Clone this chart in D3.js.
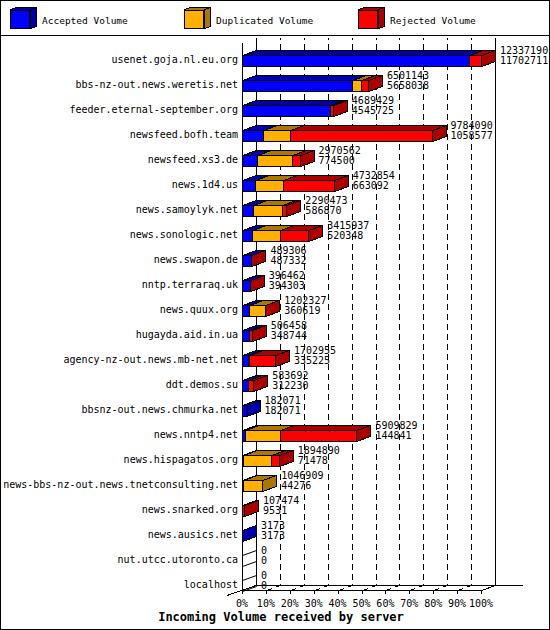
<!DOCTYPE html>
<html lang="en">
<head>
<meta charset="UTF-8">
<title>Incoming Volume received by server</title>
<script src="https://d3js.org/d3.v7.min.js"></script>
<style>
  body { margin: 0; background: #fff; }
  svg { display: block; shape-rendering: crispEdges; }
  text { font-family: "DejaVu Sans Mono", monospace; fill: #000; }
</style>
</head>
<body>
<div id="chart"></div>
<script>

const servers = ["usenet.goja.nl.eu.org", "bbs-nz-out.news.weretis.net", "feeder.eternal-september.org",
  "newsfeed.bofh.team", "newsfeed.xs3.de", "news.1d4.us", "news.samoylyk.net", "news.sonologic.net",
  "news.swapon.de", "nntp.terraraq.uk", "news.quux.org", "hugayda.aid.in.ua",
  "agency-nz-out.news.mb-net.net", "ddt.demos.su", "bbsnz-out.news.chmurka.net", "news.nntp4.net",
  "news.hispagatos.org", "news-bbs-nz-out.news.tnetconsulting.net", "news.snarked.org",
  "news.ausics.net", "nut.utcc.utoronto.ca", "localhost"];

const totalVol = [12337190, 6501143, 4689429, 9784090, 2970562, 4732854, 2290473, 3415937,
  489306, 396462, 1202327, 506458, 1702955, 583692, 182071, 5909829, 1894890, 1046909,
  107474, 3173, 0, 0];
const acceptedVol = [11702711, 5658038, 4545725, 1058577, 774500, 663092, 586870, 520348,
  487332, 394303, 360619, 348744, 335225, 312230, 182071, 144841, 71478, 44276,
  9531, 3173, 0, 0];
// duplicated / rejected split read off the bar segments (estimates)
const duplicatedVol = [0, 470000, 0, 1394000, 1820000, 1445000, 1500000, 1450000,
  0, 0, 835000, 10000, 50000, 0, 0, 1810000, 1450000, 1002633,
  0, 0, 0, 0];
const rejectedVol = [634479, 373105, 143704, 7331513, 376062, 2624762, 203603, 1445589,
  1974, 2159, 6708, 147714, 1317730, 271462, 0, 3954988, 373412, 0,
  97943, 0, 0, 0];

const pctTicks = [0, 10, 20, 30, 40, 50, 60, 70, 80, 90, 100];
const legendLabels = ["Accepted Volume", "Duplicated Volume", "Rejected Volume"];

const W = 550, H = 630;
const front = ["#0000ff", "#ffb000", "#ff0000"];
const shade = ["#0000aa", "#aa7700", "#aa0000"];
const dx = 14, dy = -5;          // 3d depth
const x0 = 242, x1 = 481;         // front 0% .. 100%
const floorY = 590, topY = 38;

const svg = d3.select("#chart").append("svg")
  .attr("width", W).attr("height", H);

svg.append("rect").attr("x", 0.5).attr("y", 0.5).attr("width", W - 1).attr("height", H - 1)
  .attr("fill", "#fff").attr("stroke", "#000");
svg.append("line").attr("x1", 0).attr("x2", W).attr("y1", 35.5).attr("y2", 35.5).attr("stroke", "#000");

// legend
const legendX = [10, 184, 358];
const lg = svg.selectAll("g.legend").data(legendLabels).enter().append("g")
  .attr("class", "legend")
  .attr("transform", (d, i) => `translate(${legendX[i]},10)`);
lg.append("path")
  .attr("d", "M20,0 L26,-2.5 L26,16.5 L20,19 Z")
  .attr("fill", (d, i) => shade[i]).attr("stroke", "#000");
lg.append("path")
  .attr("d", "M0,0 L6,-2.5 L26,-2.5 L20,0 Z")
  .attr("fill", (d, i) => shade[i]).attr("stroke", "#000");
lg.append("rect").attr("x", 0.5).attr("y", 0.5).attr("width", 19).attr("height", 18)
  .attr("fill", (d, i) => front[i]).attr("stroke", "#000");
lg.append("text").attr("x", 32).attr("y", 10).attr("dominant-baseline", "central")
  .style("font-size", "9.5px").text(d => d);

// scales
const x = d3.scaleLinear().domain([0, d3.max(totalVol)]).range([x0, x1]);
const pct = d3.scaleLinear().domain([0, 100]).range([x0, x1]);
const y = d3.scaleBand().domain(servers).range([47.5, 47.5 + 25 * servers.length]);
const barH = 11;

// walls and grid
const g = svg.append("g").attr("stroke", "#000").attr("fill", "none");
g.append("line").attr("x1", x0 + dx + 0.5).attr("x2", x0 + dx + 0.5)
  .attr("y1", topY).attr("y2", floorY + dy);
g.append("line").attr("x1", x1 + dx + 0.5).attr("x2", x1 + dx + 0.5)
  .attr("y1", topY).attr("y2", floorY + dy);
g.selectAll("path.grid").data(pctTicks.slice(1, -1)).enter().append("path")
  .attr("class", "grid")
  .attr("stroke-dasharray", "6,4")
  .attr("d", p => {
    const px = Math.round(pct(p)) + 0.5;
    return `M${px},${floorY + 0.5} L${px + dx},${floorY + dy + 0.5} L${px + dx},${topY}`;
  });

// bars
const rows = servers.map((s, i) => {
  const vals = [acceptedVol[i], duplicatedVol[i], rejectedVol[i]];
  let acc = 0;
  const segs = [];
  vals.forEach((v, k) => {
    if (v > 0) segs.push({ k, a: x(acc), b: x(acc + v) });
    acc += v;
  });
  return { name: s, i, segs };
});

function box(a, b, t, bt) {
  return {
    topFace: `M${a},${t} L${a + dx},${t + dy} L${b + dx},${t + dy} L${b},${t} Z`,
    side: `M${b},${t} L${b + dx},${t + dy} L${b + dx},${bt + dy} L${b},${bt} Z`
  };
}

const barG = svg.append("g");
rows.forEach(r => {
  const t = Math.round(y(r.name) + 7) + 0.5, bt = t + barH;
  if (r.segs.length === 0) {
    const f = box(x0 + 0.5, x0 + 0.5, t, bt);
    barG.append("path").attr("d", f.side).attr("fill", "none").attr("stroke", "#000")
      .style("shape-rendering", "auto");
    return;
  }
  r.segs.forEach(s => {
    const a = Math.round(s.a) + 0.5, b = Math.round(s.b) + 0.5;
    const f = box(a, b, t, bt);
    barG.append("path").attr("d", f.side).attr("fill", shade[s.k]).attr("stroke", "#000");
    barG.append("path").attr("d", f.topFace).attr("fill", shade[s.k]).attr("stroke", "#000");
    barG.append("rect").attr("x", a).attr("y", t).attr("width", Math.max(0, b - a)).attr("height", barH)
      .attr("fill", front[s.k]).attr("stroke", "#000");
  });
});

// front axis, floor, ticks
const ax = svg.append("g").attr("stroke", "#000").attr("fill", "none");
ax.append("line").attr("x1", x0 + 0.5).attr("x2", x0 + 0.5).attr("y1", topY - dy).attr("y2", floorY + 4);
ax.append("line").attr("x1", x0).attr("x2", x1 + 1).attr("y1", floorY + 0.5).attr("y2", floorY + 0.5);
ax.append("line").attr("x1", x0 + dx).attr("x2", 523).attr("y1", floorY + dy + 0.5).attr("y2", floorY + dy + 0.5);
ax.append("line").attr("x1", x0 - dx - 1).attr("y1", floorY - dy + 0.5)
  .attr("x2", x0 + dx).attr("y2", floorY + dy + 0.5);
ax.append("line").attr("x1", x1 + 0.5).attr("y1", floorY + 0.5)
  .attr("x2", x1 + dx + 0.5).attr("y2", floorY + dy + 0.5);
ax.selectAll("line.tick").data(pctTicks).enter().append("line")
  .attr("class", "tick")
  .attr("x1", p => Math.round(pct(p)) + 0.5).attr("x2", p => Math.round(pct(p)) + 0.5)
  .attr("y1", floorY).attr("y2", floorY + 4);

svg.selectAll("text.pct").data(pctTicks).enter().append("text")
  .attr("class", "pct")
  .attr("x", p => pct(p)).attr("y", 603)
  .attr("text-anchor", "middle").attr("dominant-baseline", "central")
  .style("font-size", "10px")
  .text(p => p + "%");

// category labels
svg.selectAll("text.cat").data(servers).enter().append("text")
  .attr("class", "cat")
  .attr("x", 238).attr("y", d => y(d) + 12)
  .attr("text-anchor", "end").attr("dominant-baseline", "central")
  .style("font-size", "10px")
  .text(d => d);

// value labels
const vl = svg.selectAll("g.val").data(servers).enter().append("g").attr("class", "val")
  .attr("transform", (d, i) => `translate(${x(totalVol[i]) + dx + 5},${y(d) + 12.5})`)
  .style("font-size", "10px");
vl.append("text").attr("y", -6.5).text((d, i) => totalVol[i]);
vl.append("text").attr("y", 4).text((d, i) => acceptedVol[i]);

svg.append("text").attr("x", 281).attr("y", 617)
  .attr("text-anchor", "middle").attr("dominant-baseline", "central")
  .style("font-size", "12px").style("font-weight", "bold")
  .text("Incoming Volume received by server");

</script>
</body>
</html>
